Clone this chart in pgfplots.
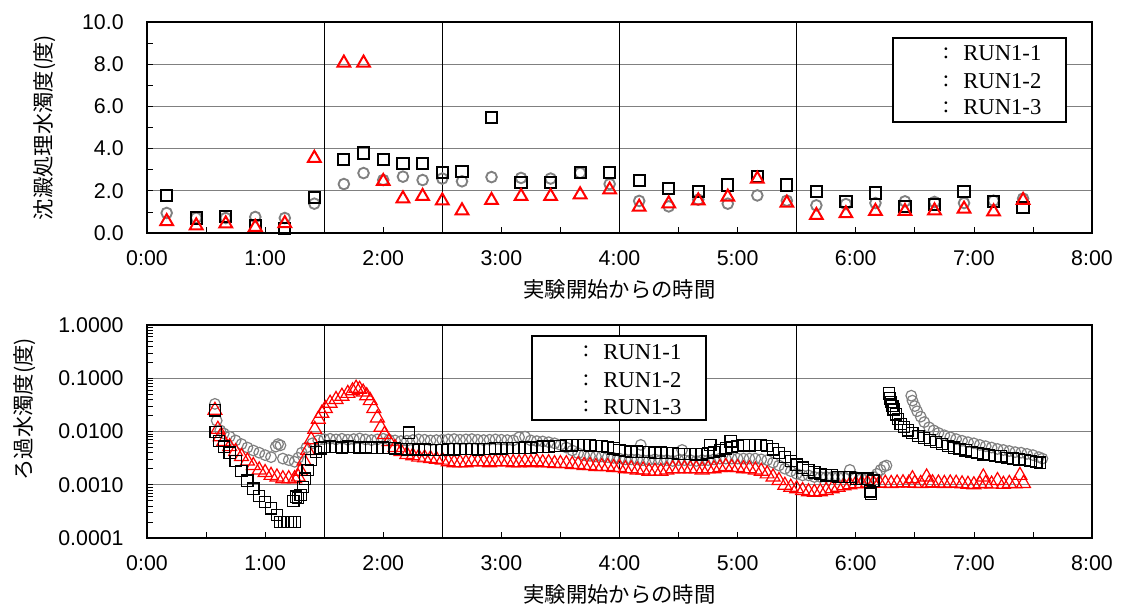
\documentclass[border=0pt]{standalone}
\usepackage{fontspec}
\setmainfont{Liberation Sans}
\newfontfamily\jp{Noto Sans CJK JP}
\newfontfamily\lgserif{Liberation Serif}
\usepackage{pgfplots}
\pgfplotsset{compat=1.18}
\definecolor{mygray}{RGB}{128,128,128}
\pgfplotsset{
 base/.style={
  scale only axis, width=708.75pt, xmin=0, xmax=8,
  xtick={0,1,...,8}, xticklabels={0:00,1:00,2:00,3:00,4:00,5:00,6:00,7:00,8:00},
  minor x tick num=1,
  tick align=inside, xtick pos=left, ytick pos=left,
  axis line style={line width=1.5pt},
  major tick length=4.5pt, minor tick length=4.5pt,
  every tick/.style={black, line width=0.5pt},
  ymajorgrids, major grid style={mygray, line width=0.7pt},
  ticklabel style={font=\fontsize{16}{19}\selectfont},
  /pgf/number format/assume math mode=true,
  xticklabel style={yshift=-10pt},
  yticklabel style={xshift=-14pt},
  xlabel={\jp 実験開始からの時間},
  xlabel style={font=\fontsize{16}{19}\selectfont, at={(rel axis cs:0.5,0)}, anchor=center, yshift=-42pt},
 }
}
\begin{document}
\begin{tikzpicture}
% ---------------- top chart ----------------
\begin{axis}[base, height=158.25pt, at={(0,0)}, anchor=south west,
  ymin=0, ymax=10, ytick={0,2,...,10}, yticklabels={0.0,2.0,4.0,6.0,8.0,10.0},
  minor y tick num=1,
  ylabel={\jp 沈澱処理水濁度(度)},
  ylabel style={font=\fontsize{16}{19}\selectfont, at={(rel axis cs:-0.108,0.5)}, anchor=center},
]
\draw[black, line width=0.6pt] (axis cs:1.5,0) -- (axis cs:1.5,10);
\draw[black, line width=0.6pt] (axis cs:2.5,0) -- (axis cs:2.5,10);
\draw[black, line width=0.6pt] (axis cs:4,0) -- (axis cs:4,10);
\draw[black, line width=0.6pt] (axis cs:5.5,0) -- (axis cs:5.5,10);
\addplot[only marks, mark=o, mark size=4pt, mygray, line width=1.4pt] coordinates {
(0.1667,0.95) (0.4167,0.72) (0.6667,0.71) (0.9167,0.76) (1.1667,0.71) (1.4167,1.39) (1.6667,2.32) (1.8333,2.84) (2.0,2.51) (2.1667,2.67) (2.3333,2.51) (2.5,2.58) (2.6667,2.45) (2.9167,2.65) (3.1667,2.61) (3.4167,2.58) (3.6667,2.85) (3.9167,2.32) (4.1667,1.52) (4.4167,1.26) (4.6667,1.58) (4.9167,1.39) (5.1667,1.78) (5.4167,1.53) (5.6667,1.31) (5.9167,1.37) (6.1667,1.42) (6.4167,1.50) (6.6667,1.47) (6.9167,1.42) (7.1667,1.53) (7.4167,1.63)
};
\addplot[only marks, mark=square, mark size=4.2pt, black, line width=1.5pt] coordinates {
(0.1667,1.78) (0.4167,0.71) (0.6667,0.77) (0.9167,0.36) (1.1667,0.22) (1.4167,1.70) (1.6667,3.48) (1.8333,3.79) (2.0,3.49) (2.1667,3.29) (2.3333,3.29) (2.5,2.88) (2.6667,2.91) (2.9167,5.48) (3.1667,2.40) (3.4167,2.40) (3.6667,2.88) (3.9167,2.88) (4.1667,2.48) (4.4167,2.09) (4.6667,1.97) (4.9167,2.27) (5.1667,2.69) (5.4167,2.27) (5.6667,1.97) (5.9167,1.50) (6.1667,1.90) (6.4167,1.26) (6.6667,1.36) (6.9167,1.97) (7.1667,1.50) (7.4167,1.22)
};
\addplot[only marks, mark=triangle, mark size=5.5pt, red, line width=1.5pt] coordinates {
(0.1667,0.55) (0.4167,0.35) (0.6667,0.44) (0.9167,0.28) (1.1667,0.45) (1.4167,3.55) (1.6667,8.06) (1.8333,8.06) (2.0,2.45) (2.1667,1.63) (2.3333,1.74) (2.5,1.53) (2.6667,1.06) (2.9167,1.55) (3.1667,1.74) (3.4167,1.74) (3.6667,1.82) (3.9167,2.05) (4.1667,1.23) (4.4167,1.39) (4.6667,1.53) (4.9167,1.71) (5.1667,2.56) (5.4167,1.42) (5.6667,0.84) (5.9167,0.92) (6.1667,1.03) (6.4167,1.03) (6.6667,1.06) (6.9167,1.14) (7.1667,1.01) (7.4167,1.55)
};
\end{axis}
% ---------------- bottom chart ----------------
\begin{axis}[base, height=159.75pt, at={(0,-69pt)}, anchor=north west,
  ymode=log, ymin=1e-4, ymax=1,
  ytick={1e-4,1e-3,1e-2,1e-1,1}, yticklabels={0.0001,0.0010,0.0100,0.1000,1.0000},
  ylabel={\jp ろ過水濁度(度)},
  ylabel style={font=\fontsize{16}{19}\selectfont, at={(rel axis cs:-0.13,0.605)}, anchor=center},
]
\draw[black, line width=0.6pt] (axis cs:1.5,1e-4) -- (axis cs:1.5,1);
\draw[black, line width=0.6pt] (axis cs:2.5,1e-4) -- (axis cs:2.5,1);
\draw[black, line width=0.6pt] (axis cs:4,1e-4) -- (axis cs:4,1);
\draw[black, line width=0.6pt] (axis cs:5.5,1e-4) -- (axis cs:5.5,1);
\addplot[only marks, mark=o, mark size=4pt, mygray, line width=0.9pt] coordinates {
(0.575,0.033) (0.59,0.016) (0.62,0.0105) (0.65,0.0092) (0.70,0.0080) (0.75,0.0068) (0.80,0.0058) (0.85,0.0050) (0.90,0.0044) (0.95,0.0040) (1.00,0.0036) (1.05,0.0033) (1.09,0.0052) (1.11,0.0058) (1.13,0.0055) (1.15,0.0031) (1.20,0.0029) (1.25,0.0027) (1.28,0.0032) (1.31,0.0040) (1.35,0.0050) (1.40,0.0060) (1.45,0.0068) (1.50,0.0072) (1.55,0.0073) (1.60,0.0071) (1.65,0.0073) (1.70,0.0070) (1.75,0.0072) (1.80,0.0074) (1.85,0.0071) (1.90,0.0069) (1.95,0.0071) (2.00,0.0073) (2.05,0.0070) (2.10,0.0068) (2.15,0.0066) (2.20,0.0067) (2.25,0.0069) (2.30,0.0071) (2.35,0.0070) (2.40,0.0068) (2.45,0.0069) (2.50,0.0070) (2.55,0.0071) (2.60,0.0072) (2.65,0.0070) (2.70,0.0071) (2.75,0.0072) (2.80,0.0070) (2.85,0.0069) (2.90,0.0070) (2.95,0.0071) (3.00,0.0070) (3.05,0.0069) (3.10,0.0068) (3.15,0.0078) (3.20,0.0080) (3.25,0.0068) (3.30,0.0066) (3.35,0.0065) (3.40,0.0063) (3.45,0.0060) (3.50,0.0056) (3.55,0.0050) (3.60,0.0044) (3.65,0.0039) (3.70,0.0036) (3.75,0.0035) (3.80,0.0034) (3.85,0.0034) (3.90,0.0033) (3.95,0.0032) (4.00,0.0031) (4.05,0.0030) (4.10,0.0030) (4.15,0.0030) (4.18,0.0056) (4.20,0.0029) (4.25,0.0029) (4.30,0.0030) (4.35,0.0029) (4.40,0.0029) (4.45,0.0028) (4.50,0.0029) (4.53,0.0045) (4.55,0.0029) (4.60,0.0029) (4.65,0.0028) (4.70,0.0029) (4.75,0.0029) (4.80,0.0030) (4.85,0.0031) (4.90,0.0031) (4.95,0.0031) (5.00,0.0031) (5.05,0.0031) (5.10,0.0031) (5.15,0.0031) (5.20,0.0030) (5.25,0.0029) (5.30,0.0026) (5.35,0.0023) (5.40,0.0020) (5.45,0.0018) (5.50,0.0016) (5.55,0.0015) (5.60,0.0015) (5.65,0.0014) (5.70,0.0014) (5.75,0.0014) (5.80,0.0014) (5.85,0.0014) (5.90,0.0014) (5.95,0.0019) (6.00,0.0014) (6.05,0.0013) (6.10,0.0013) (6.15,0.0014) (6.18,0.0016) (6.21,0.0019) (6.24,0.0022) (6.26,0.0023)
(6.47,0.047) (6.48,0.038) (6.50,0.030) (6.52,0.024) (6.55,0.019) (6.58,0.015) (6.62,0.012) (6.66,0.0105) (6.70,0.0094) (6.75,0.0085) (6.80,0.0078) (6.85,0.0072) (6.90,0.0067) (6.95,0.0063) (7.00,0.0060) (7.05,0.0056) (7.10,0.0053) (7.15,0.0050) (7.20,0.0047) (7.25,0.0045) (7.30,0.0043) (7.35,0.0041) (7.40,0.0040) (7.45,0.0038) (7.50,0.0036) (7.55,0.0033) (7.58,0.0031)
};
\addplot[only marks, mark=triangle, mark size=6pt, red, line width=0.9pt] coordinates {
(0.575,0.025) (0.60,0.011) (0.62,0.0080) (0.65,0.0065) (0.70,0.0052) (0.75,0.0042) (0.80,0.0034) (0.85,0.0028) (0.90,0.0023) (0.95,0.0019) (1.00,0.0017) (1.05,0.0015) (1.10,0.0014) (1.15,0.0013) (1.20,0.0013) (1.25,0.0013) (1.28,0.0014) (1.30,0.0018) (1.33,0.0028) (1.36,0.0044) (1.39,0.0070) (1.42,0.011) (1.45,0.017) (1.48,0.022) (1.51,0.027) (1.55,0.034) (1.60,0.040) (1.65,0.046) (1.70,0.052) (1.74,0.058) (1.77,0.065) (1.80,0.062) (1.83,0.055) (1.86,0.047) (1.89,0.038) (1.92,0.027) (1.95,0.018) (1.98,0.012) (2.01,0.0088) (2.05,0.0065) (2.10,0.0050) (2.15,0.0042) (2.20,0.0037) (2.25,0.0035) (2.30,0.0033) (2.35,0.0032) (2.40,0.0031) (2.45,0.0030) (2.50,0.0029) (2.55,0.0027) (2.60,0.0026) (2.65,0.0026) (2.70,0.0026) (2.75,0.0027) (2.80,0.0027) (2.85,0.0027) (2.90,0.0026) (2.95,0.0027) (3.00,0.0027) (3.05,0.0027) (3.10,0.0026) (3.15,0.0026) (3.20,0.0027) (3.25,0.0026) (3.30,0.0027) (3.35,0.0026) (3.40,0.0026) (3.45,0.0025) (3.50,0.0025) (3.55,0.0025) (3.60,0.0024) (3.65,0.0024) (3.70,0.0023) (3.75,0.0023) (3.80,0.0022) (3.85,0.0022) (3.90,0.0022) (3.95,0.0021) (4.00,0.0021) (4.05,0.0020) (4.10,0.0020) (4.15,0.0019) (4.20,0.0019) (4.25,0.0018) (4.30,0.0018) (4.35,0.0018) (4.40,0.0019) (4.45,0.0020) (4.50,0.0020) (4.55,0.0020) (4.60,0.0020) (4.65,0.0020) (4.70,0.0019) (4.75,0.0020) (4.80,0.0020) (4.85,0.0021) (4.90,0.0022) (4.95,0.0021) (5.00,0.0021) (5.05,0.0020) (5.10,0.0020) (5.15,0.0019) (5.20,0.0018) (5.25,0.0016) (5.30,0.0014) (5.35,0.0012) (5.40,0.00098) (5.45,0.00090) (5.50,0.00084) (5.55,0.00078) (5.60,0.00074) (5.65,0.00072) (5.70,0.00074) (5.75,0.00078) (5.80,0.00084) (5.85,0.00090) (5.90,0.00096) (5.95,0.00100) (6.00,0.00104) (6.05,0.00106) (6.10,0.00108) (6.15,0.00107) (6.20,0.00108) (6.25,0.00107) (6.30,0.00106) (6.35,0.00108) (6.40,0.00109) (6.45,0.00108) (6.48,0.0013) (6.50,0.00107) (6.55,0.00106) (6.60,0.0014) (6.62,0.00107) (6.65,0.00109) (6.70,0.00108) (6.75,0.00106) (6.80,0.00108) (6.85,0.00107) (6.90,0.00104) (6.95,0.00102) (7.00,0.00100) (7.05,0.00104) (7.08,0.0014) (7.10,0.00106) (7.15,0.00103) (7.20,0.0012) (7.25,0.00102) (7.30,0.00106) (7.35,0.00104) (7.39,0.0015) (7.42,0.00106)
};
\addplot[only marks, mark=square, mark size=4.2pt, black, line width=0.9pt] coordinates {
(0.575,0.025) (0.58,0.0098) (0.61,0.0067) (0.65,0.0052) (0.70,0.0040) (0.75,0.0028) (0.80,0.0018) (0.85,0.0012) (0.90,0.00085) (0.95,0.00062) (1.00,0.00048) (1.05,0.00036) (1.10,0.00027) (1.13,0.00020) (1.16,0.00020) (1.19,0.00020) (1.22,0.00020) (1.25,0.00020) (1.24,0.00050) (1.26,0.00060) (1.28,0.00056) (1.30,0.00065) (1.32,0.00090) (1.34,0.0013) (1.36,0.0019) (1.39,0.0029) (1.43,0.0041) (1.47,0.0048) (1.50,0.0051) (1.55,0.0052) (1.60,0.0051) (1.65,0.0050) (1.70,0.0052) (1.75,0.0051) (1.80,0.0050) (1.85,0.0051) (1.90,0.0050) (1.95,0.0049) (2.00,0.0050) (2.05,0.0049) (2.10,0.0048) (2.15,0.0047) (2.20,0.0046) (2.22,0.0095) (2.25,0.0046) (2.30,0.0045) (2.35,0.0046) (2.40,0.0045) (2.45,0.0045) (2.50,0.0045) (2.55,0.0046) (2.60,0.0046) (2.65,0.0047) (2.70,0.0047) (2.75,0.0047) (2.80,0.0046) (2.85,0.0047) (2.90,0.0047) (2.95,0.0048) (3.00,0.0048) (3.05,0.0049) (3.10,0.0049) (3.15,0.0049) (3.20,0.0050) (3.25,0.0050) (3.30,0.0051) (3.35,0.0052) (3.40,0.0052) (3.45,0.0053) (3.50,0.0054) (3.55,0.0055) (3.60,0.0055) (3.65,0.0056) (3.70,0.0056) (3.75,0.0055) (3.80,0.0054) (3.85,0.0053) (3.90,0.0051) (3.95,0.0048) (4.00,0.0045) (4.05,0.0043) (4.10,0.0042) (4.15,0.0042) (4.20,0.0041) (4.25,0.0041) (4.30,0.0040) (4.35,0.0040) (4.40,0.0039) (4.45,0.0039) (4.50,0.0038) (4.55,0.0038) (4.60,0.0038) (4.65,0.0037) (4.70,0.0037) (4.75,0.0039) (4.77,0.0056) (4.80,0.0041) (4.85,0.0044) (4.90,0.0048) (4.94,0.0065) (4.95,0.0051) (5.00,0.0054) (5.05,0.0055) (5.10,0.0055) (5.15,0.0056) (5.20,0.0056) (5.25,0.0053) (5.30,0.0046) (5.35,0.0039) (5.40,0.0033) (5.45,0.0028) (5.50,0.0024) (5.55,0.0021) (5.60,0.0019) (5.65,0.0017) (5.70,0.0016) (5.75,0.0015) (5.80,0.0015) (5.85,0.0014) (5.90,0.0014) (5.95,0.0014) (6.00,0.0013) (6.05,0.0013) (6.10,0.0013) (6.12,0.00075) (6.13,0.00068) (6.15,0.0012)
(6.28,0.052) (6.29,0.042) (6.30,0.036) (6.31,0.030) (6.32,0.026) (6.34,0.021) (6.36,0.017) (6.38,0.014) (6.41,0.012) (6.44,0.0105) (6.48,0.0094) (6.53,0.0083) (6.58,0.0076) (6.63,0.0070) (6.68,0.0064) (6.73,0.0059) (6.78,0.0054) (6.83,0.0050) (6.88,0.0047) (6.93,0.0044) (6.98,0.0041) (7.03,0.0039) (7.08,0.0037) (7.13,0.0036) (7.18,0.0035) (7.23,0.0034) (7.28,0.0032) (7.33,0.0031) (7.38,0.0030) (7.43,0.0029) (7.48,0.0028) (7.53,0.0027) (7.56,0.0026)
};
\end{axis}
% legends (text only, as in the reference)
\draw[line width=1.5pt, fill=white] (559.5pt,146.25pt) rectangle (689.25pt,83.25pt);
\foreach \yy/\tt in {134.8/1, 114/2, 94.3/3} {
  \node[anchor=center, font=\fontsize{17}{19}\lgserif] at (599.25pt,\yy pt) {:};
  \node[anchor=west, inner sep=0pt, font=\fontsize{17}{19}\lgserif] at (612pt,\yy pt) {RUN1-\tt};
}
\draw[line width=1.5pt, fill=white] (288.75pt,-77.25pt) rectangle (419.25pt,-140.25pt);
\foreach \yy/\tt in {-89/1, -110.25/2, -130.3/3} {
  \node[anchor=center, font=\fontsize{17}{19}\lgserif] at (329.25pt,\yy pt) {:};
  \node[anchor=west, inner sep=0pt, font=\fontsize{17}{19}\lgserif] at (342pt,\yy pt) {RUN1-\tt};
}
\pgfresetboundingbox
\path[use as bounding box] (-110.25pt,174.75pt) rectangle (730.5pt,-279pt);
\end{tikzpicture}
\end{document}
